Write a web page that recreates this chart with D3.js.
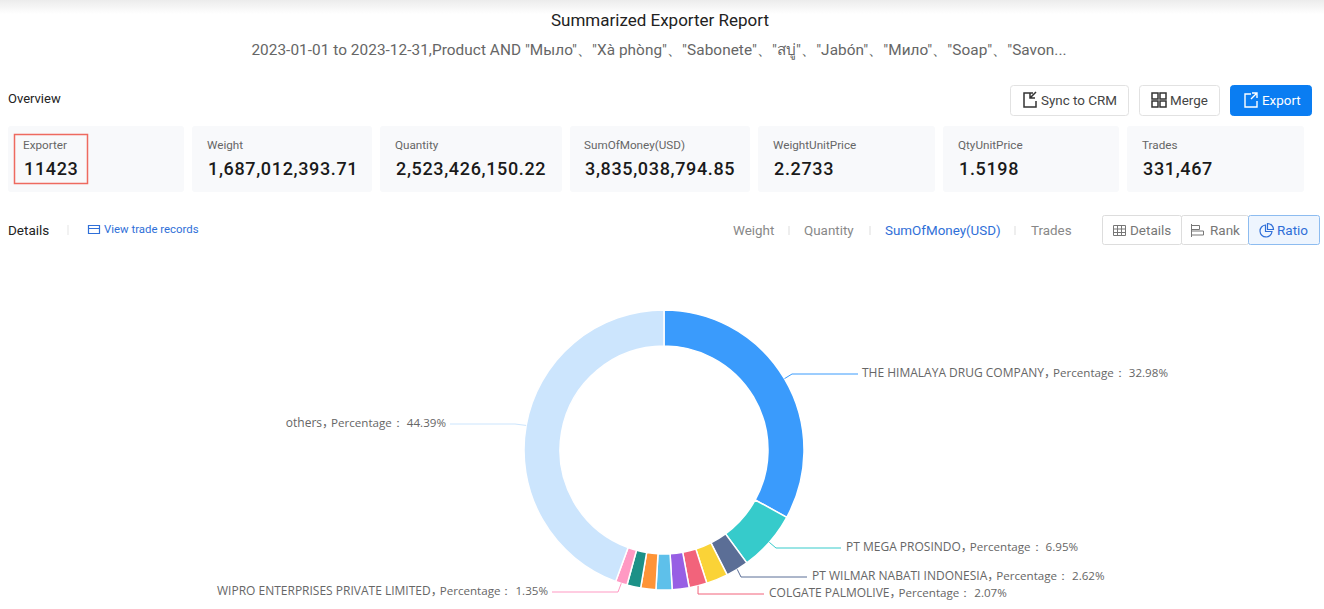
<!DOCTYPE html>
<html>
<head>
<meta charset="utf-8">
<script src="https://cdn.jsdelivr.net/npm/d3@7"></script>
<style>
  html, body { margin: 0; padding: 0; background: #fff; overflow: hidden; }
  text { font-family: Roboto, "Noto Sans", sans-serif; }
</style>
</head>
<body>
<svg id="chart" width="1324" height="609"></svg>
<script>
// chart values
const slices = ["THE HIMALAYA DRUG COMPANY", "PT MEGA PROSINDO", "PT WILMAR NABATI INDONESIA", "yellow", "COLGATE PALMOLIVE", "purple", "sky", "orange", "green", "WIPRO ENTERPRISES PRIVATE LIMITED", "others"];
const percents = [32.98, 6.95, 2.62, 2.5, 2.07, 1.95, 1.85, 1.75, 1.59, 1.35, 44.39];
const sliceColors = ["#3a9bfc", "#36cbcb", "#5b6e96", "#fad337", "#f2637b", "#975fe4", "#5ec0ea", "#fe9437", "#1c9187", "#ff99c3", "#cce5fd"];

const cardLabels = ["Exporter", "Weight", "Quantity", "SumOfMoney(USD)", "WeightUnitPrice", "QtyUnitPrice", "Trades"];
const cardValues = ["11423", "1,687,012,393.71", "2,523,426,150.22", "3,835,038,794.85", "2.2733", "1.5198", "331,467"];
const tabs = ["Weight", "Quantity", "SumOfMoney(USD)", "Trades"];

const title = "Summarized Exporter Report";
const subtitle = '2023-01-01 to 2023-12-31,Product AND "Мыло"、"Xà phòng"、"Sabonete"、"สบู่"、"Jabón"、"Мило"、"Soap"、"Savon...';

// layout
const svg = d3.select("#chart");
const blue = "#2f6fd8";

const grad = svg.append("defs").append("linearGradient")
  .attr("id", "topShade").attr("x1", 0).attr("x2", 0).attr("y1", 0).attr("y2", 1);
grad.append("stop").attr("offset", 0).attr("stop-color", "#ececec");
grad.append("stop").attr("offset", 1).attr("stop-color", "#fff");
svg.append("rect").attr("width", 1324).attr("height", 14).attr("fill", "url(#topShade)");

svg.append("text").attr("x", 660).attr("y", 26).attr("text-anchor", "middle")
  .attr("font-size", 17).attr("fill", "#222").text(title);
svg.append("text").attr("x", 659).attr("y", 55).attr("text-anchor", "middle")
  .attr("font-size", 15.35).attr("letter-spacing", 0.055).attr("fill", "#666").text(subtitle);
svg.append("text").attr("x", 8).attr("y", 103).attr("font-size", 13).attr("fill", "#222").text("Overview");

// overview cards
const cardEdges = [[8, 184], [192, 372], [380, 562], [570, 750], [758, 935], [943, 1119], [1127, 1304]];
const textX = [23, 207, 395, 584, 773, 958, 1142];
const cards = svg.append("g").selectAll("g").data(cardLabels).join("g");
cards.append("rect")
  .attr("x", (d, i) => cardEdges[i][0]).attr("y", 126)
  .attr("width", (d, i) => cardEdges[i][1] - cardEdges[i][0]).attr("height", 66)
  .attr("rx", 3).attr("fill", "#f8f9fb");
cards.append("text").attr("x", (d, i) => textX[i]).attr("y", 149)
  .attr("font-size", 11.7).attr("fill", "#666").text(d => d);
cards.append("text").attr("x", (d, i) => textX[i] + 1).attr("y", 175)
  .attr("font-size", 18).attr("font-weight", 500).attr("letter-spacing", 0.65)
  .attr("fill", "#1a1a1a").text((d, i) => cardValues[i]);
svg.append("rect").attr("x", 14.5).attr("y", 134.5).attr("width", 73).attr("height", 49)
  .attr("fill", "none").attr("stroke", "#ee6a5f").attr("stroke-width", 1.5);

// buttons
const buttons = [
  { label: "Sync to CRM", x: 1010, w: 118, tx: 1041 },
  { label: "Merge", x: 1139, w: 80, tx: 1170 },
  { label: "Export", x: 1230, w: 81, tx: 1262, primary: true }
];
const btn = svg.append("g").selectAll("g").data(buttons).join("g");
btn.append("rect").attr("x", d => d.x + 0.5).attr("y", 85.5).attr("width", d => d.w).attr("height", 30).attr("rx", 3)
  .attr("fill", d => d.primary ? "#0a7df2" : "#fff").attr("stroke", d => d.primary ? "#0a7df2" : "#e2e2e2");
btn.append("text").attr("x", d => d.tx).attr("y", 105).attr("font-size", 13.4)
  .attr("fill", d => d.primary ? "#fff" : "#444").text(d => d.label);
// button icons
svg.append("path").attr("d", "M1033 93h-9v14h12v-6M1036 92l-6 6M1030 93v5h5").attr("fill", "none").attr("stroke", "#333").attr("stroke-width", 1.5);
svg.append("path").attr("d", "M1152 93h6v6h-6zM1160 93h6v6h-6zM1152 101h6v6h-6zM1160 101h6v6h-6z").attr("fill", "none").attr("stroke", "#333").attr("stroke-width", 1.5);
svg.append("path").attr("d", "M1251 94h-6v13h12v-6M1252 93h5v5M1257 93l-6 6").attr("fill", "none").attr("stroke", "#fff").attr("stroke-width", 1.4);

// details row
svg.append("text").attr("x", 8).attr("y", 235).attr("font-size", 13.5).attr("fill", "#222").text("Details");
svg.append("line").attr("x1", 68).attr("x2", 68).attr("y1", 225).attr("y2", 235).attr("stroke", "#e5e5e5");
svg.append("path").attr("d", "M88.5 225.5h11v8h-11zM88.5 228.5h11").attr("fill", "none").attr("stroke", blue).attr("stroke-width", 1.2);
svg.append("text").attr("x", 104).attr("y", 233).attr("font-size", 11.4).attr("fill", blue).text("View trade records");

const tabX = [733, 804, 885, 1031];
svg.append("g").selectAll("text").data(tabs).join("text")
  .attr("x", (d, i) => tabX[i]).attr("y", 235).attr("font-size", 13.4)
  .attr("fill", d => d === "SumOfMoney(USD)" ? blue : "#888").text(d => d);
svg.append("g").selectAll("line").data([789, 870, 1015]).join("line")
  .attr("x1", d => d).attr("x2", d => d).attr("y1", 226).attr("y2", 235).attr("stroke", "#ddd");

// view switch
const switches = [
  { label: "Details", x: 1102, w: 79, tx: 1130 },
  { label: "Rank", x: 1181, w: 67, tx: 1210 },
  { label: "Ratio", x: 1248, w: 71, tx: 1277, active: true }
];
const sw = svg.append("g").selectAll("g").data(switches).join("g");
sw.append("rect").attr("x", d => d.x + 0.5).attr("y", 215.5).attr("width", d => d.w).attr("height", 29).attr("rx", 2)
  .attr("fill", d => d.active ? "#eef5fe" : "#fff").attr("stroke", d => d.active ? "#8dbcf0" : "#ddd");
sw.append("text").attr("x", d => d.tx).attr("y", 235).attr("font-size", 13.5)
  .attr("fill", d => d.active ? blue : "#777").text(d => d.label);
svg.append("path").attr("d", "M1113.5 225.5h12v10h-12zM1113.5 229h12M1113.5 232.5h12M1117.5 225.5v10M1121.5 225.5v10").attr("fill", "none").attr("stroke", "#777");
svg.append("path").attr("d", "M1191.5 224v13M1191.5 225.5h8v4h-8M1191.5 231h12v4h-12").attr("fill", "none").attr("stroke", "#777");
svg.append("path").attr("d", "M1265.5 225a6 6 0 1 0 6.5 6.5h-6.5zM1267.5 223.5a6 6 0 0 1 6 6h-6z").attr("fill", "none").attr("stroke", blue).attr("stroke-width", 1.2);

// ring
const cx = 664, cy = 450, outer = 140, inner = 104;
const pie = d3.pie().value((d, i) => percents[i]).sort(null);
const arcs = pie(slices);
const arc = d3.arc().innerRadius(inner).outerRadius(outer);
const ring = svg.append("g").attr("transform", `translate(${cx},${cy})`);
ring.selectAll("path").data(arcs).join("path")
  .attr("d", arc)
  .attr("fill", (d, i) => sliceColors[i])
  .attr("stroke", "#fff").attr("stroke-width", 1.5);

// leader lines, the label position is given per slice, the start comes from the arc
const labelSpots = {
  "THE HIMALAYA DRUG COMPANY": { y: 374, elbowX: 792, endX: 858, textX: 862 },
  "PT MEGA PROSINDO": { y: 548, elbowX: 776, endX: 841, textX: 846 },
  "PT WILMAR NABATI INDONESIA": { y: 577, elbowX: 741, endX: 807, textX: 812 },
  "COLGATE PALMOLIVE": { y: 594, elbowX: 698, endX: 764, textX: 769 },
  "WIPRO ENTERPRISES PRIVATE LIMITED": { y: 592, elbowX: 618, endX: 552, textX: 548, left: true },
  "others": { y: 424, elbowX: 515, endX: 450, textX: 446, left: true }
};
const labelled = arcs.filter(d => labelSpots[d.data]);
const startOf = d => {
  const a = (d.startAngle + d.endAngle) / 2;
  return [cx + outer * Math.sin(a), cy - outer * Math.cos(a)];
};
const line = d3.line();
svg.append("g").selectAll("path").data(labelled).join("path")
  .attr("d", d => {
    const s = labelSpots[d.data];
    return line([startOf(d), [s.elbowX, s.y], [s.endX, s.y]]);
  })
  .attr("fill", "none").attr("stroke", d => sliceColors[d.index]).attr("stroke-width", 1);
const labels = svg.append("g").selectAll("text").data(labelled).join("text")
  .attr("x", d => labelSpots[d.data].textX)
  .attr("y", d => labelSpots[d.data].y + 3)
  .attr("text-anchor", d => labelSpots[d.data].left ? "end" : "start")
  .style("font-family", "'Open Sans', sans-serif")
  .attr("fill", "#666");
labels.append("tspan").attr("font-size", 12)
  .style("font-family", "'Open Sans', 'Noto Sans CJK SC', sans-serif")
  .text(d => `${d.data}，`);
labels.append("tspan").attr("dx", -3).attr("font-size", 11.6)
  .text(d => `Percentage： ${percents[d.index].toFixed(2)}%`);
</script>
</body>
</html>
